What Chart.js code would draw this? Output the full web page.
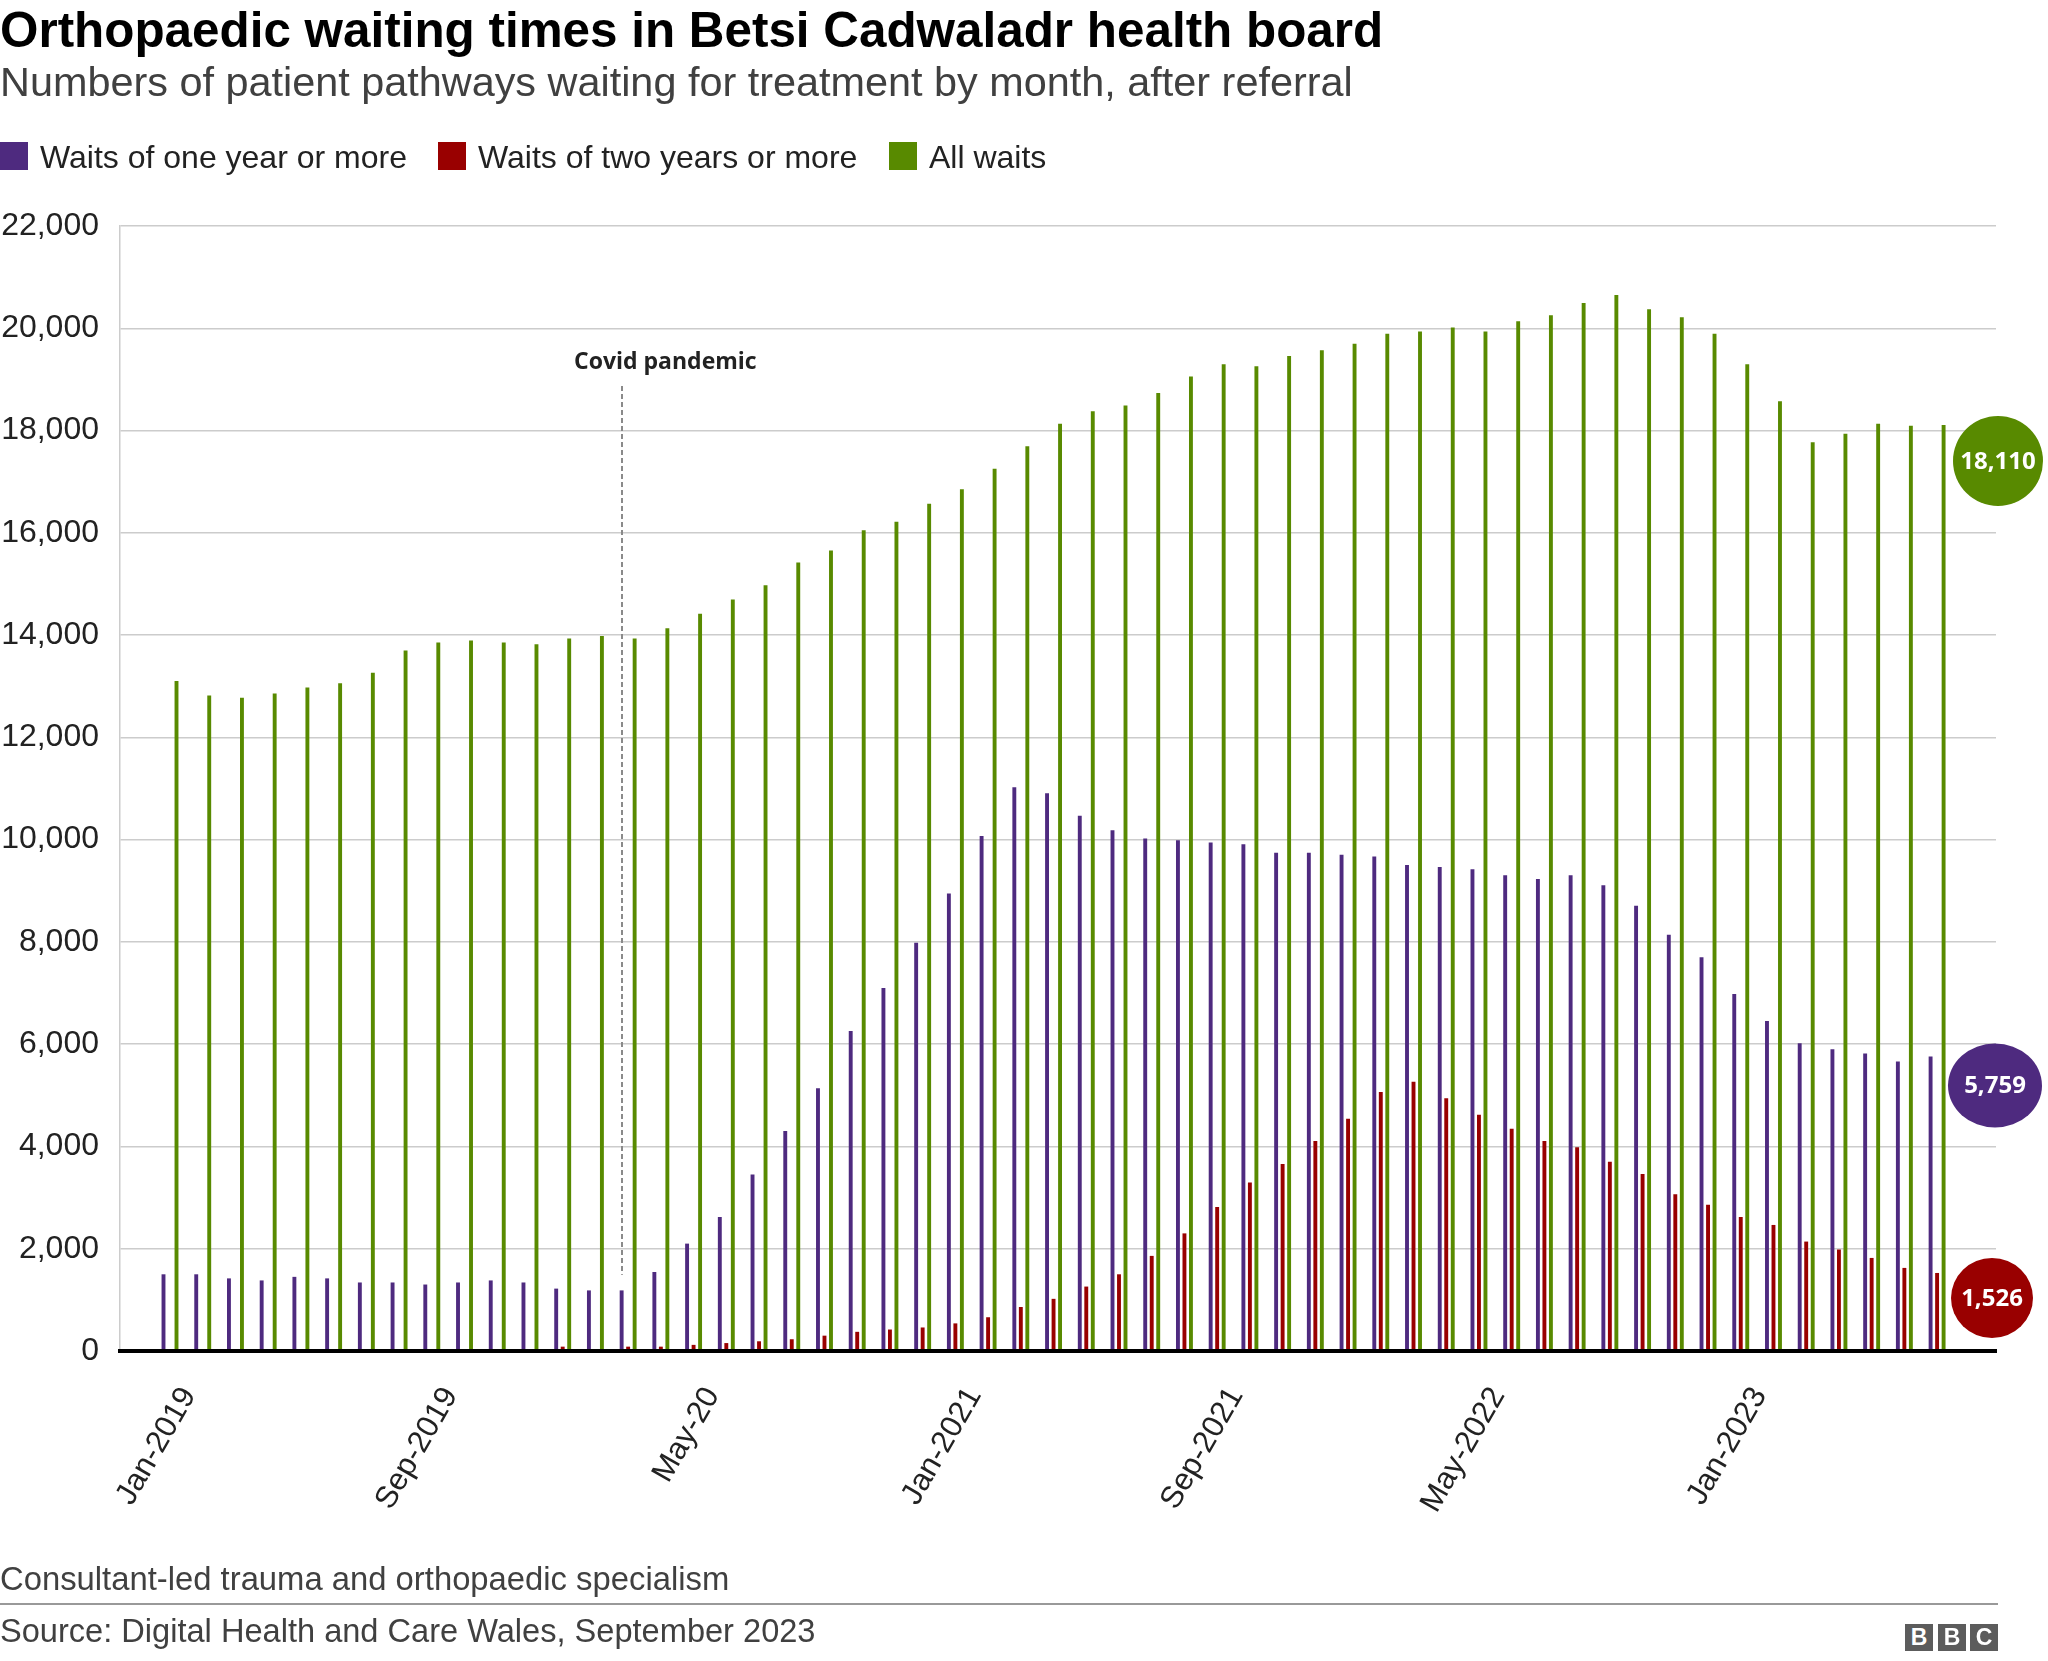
<!DOCTYPE html>
<html>
<head>
<meta charset="utf-8">
<script src="https://cdn.jsdelivr.net/npm/chart.js@4.4.0/dist/chart.umd.min.js"></script>
<style>
html,body{margin:0;padding:0;background:#fff;}
body{width:2048px;height:1661px;position:relative;overflow:hidden;font-family:"Liberation Sans",Arial,sans-serif;}
#c{position:absolute;left:0;top:0;z-index:0;}
.t{position:absolute;white-space:nowrap;line-height:1;z-index:1;}
#title{left:0;top:5px;font-size:49.4px;font-weight:bold;color:#000;}
#subtitle{left:0;top:62px;font-size:41.4px;color:#404040;}
.sw{position:absolute;top:142px;width:28px;height:28px;z-index:1;}
.lgt{top:141px;font-size:32px;color:#222;}
#note{left:0;top:1563px;font-size:32.8px;color:#404040;}
#rule{position:absolute;left:0;top:1603px;width:1998px;height:2px;background:#999;}
#source{left:0;top:1615px;font-size:32.6px;color:#404040;}
.bbc{position:absolute;top:1624px;width:28px;height:27px;background:#5c5c5c;color:#fff;font:bold 23px "Liberation Sans",Arial,sans-serif;text-align:center;line-height:27px;}
</style>
</head>
<body>
<canvas id="c" width="2048" height="1661"></canvas>
<div id="title" class="t">Orthopaedic waiting times in Betsi Cadwaladr health board</div>
<div id="subtitle" class="t">Numbers of patient pathways waiting for treatment by month, after referral</div>
<div id="legend"></div>
<div id="note" class="t">Consultant-led trauma and orthopaedic specialism</div>
<div id="rule"></div>
<div id="source" class="t">Source: Digital Health and Care Wales, September 2023</div>
<div class="bbc" style="left:1905px">B</div>
<div class="bbc" style="left:1938px">B</div>
<div class="bbc" style="left:1970px">C</div>
<script>
// ---------- DATA ----------
const months = [
  'Jan-2019','Feb-2019','Mar-2019','Apr-2019','May-2019','Jun-2019','Jul-2019','Aug-2019','Sep-2019','Oct-2019','Nov-2019','Dec-2019',
  'Jan-2020','Feb-2020','Mar-2020','Apr-2020','May-2020','Jun-2020','Jul-2020','Aug-2020','Sep-2020','Oct-2020','Nov-2020','Dec-2020',
  'Jan-2021','Feb-2021','Mar-2021','Apr-2021','May-2021','Jun-2021','Jul-2021','Aug-2021','Sep-2021','Oct-2021','Nov-2021','Dec-2021',
  'Jan-2022','Feb-2022','Mar-2022','Apr-2022','May-2022','Jun-2022','Jul-2022','Aug-2022','Sep-2022','Oct-2022','Nov-2022','Dec-2022',
  'Jan-2023','Feb-2023','Mar-2023','Apr-2023','May-2023','Jun-2023','Jul-2023'
];
const oneYearOrMore = [
  1500,1500,1420,1380,1450,1420,1340,1340,1300,1340,1380,1340,
  1220,1185,1185,1545,2100,2620,3450,4300,5140,6260,7100,7985,
  8945,10070,11025,10905,10465,10185,10020,9990,9945,9910,9745,9745,
  9705,9670,9505,9465,9420,9305,9230,9305,9110,8705,8140,7700,
  6980,6455,6020,5900,5820,5660,5759
];
const twoYearsOrMore = [
  0,0,0,0,0,0,0,0,0,0,0,0,
  85,20,85,85,120,155,190,230,300,375,420,460,
  540,660,860,1020,1260,1500,1860,2300,2815,3295,3655,4105,
  4540,5065,5265,4945,4620,4345,4105,3985,3700,3460,3065,2860,
  2620,2465,2140,1985,1820,1625,1526
];
const allWaits = [
  13100,12820,12775,12860,12975,13060,13265,13700,13855,13895,13855,13820,
  13935,13980,13935,14135,14415,14695,14975,15420,15655,16050,16215,16570,
  16850,17255,17695,18135,18375,18490,18735,19055,19295,19255,19460,19570,
  19695,19895,19935,20015,19935,20135,20255,20495,20650,20370,20215,19895,
  19295,18575,17770,17935,18135,18095,18110
];
const seriesNames = ['Waits of one year or more','Waits of two years or more','All waits'];
const seriesColors = ['#4e2a7f','#990000','#588a00'];
const tickMonths = ['Jan-2019','Sep-2019','May-2020','Jan-2021','Sep-2021','May-2022','Jan-2023'];
const tickLabels = ['Jan-2019','Sep-2019','May-20','Jan-2021','Sep-2021','May-2022','Jan-2023'];
const yTicks = [0,2000,4000,6000,8000,10000,12000,14000,16000,18000,20000,22000];
const covidMonth = 'Mar-2020';
const covidText = 'Covid pandemic';
const covidFrom = 18870, covidTo = 1490;

// ---------- LEGEND (HTML) ----------
const legendX = [0, 438, 889];
const lg = document.getElementById('legend');
seriesNames.forEach((n, i) => {
  const s = document.createElement('div');
  s.className = 'sw'; s.style.left = legendX[i] + 'px'; s.style.background = seriesColors[i];
  lg.appendChild(s);
  const t = document.createElement('div');
  t.className = 't lgt'; t.style.left = (legendX[i] + 40) + 'px'; t.textContent = n;
  lg.appendChild(t);
});

// ---------- CHART ----------
const series = [oneYearOrMore, twoYearsOrMore, allWaits];
const datasets = series.map((arr, si) => ({
  label: seriesNames[si],
  data: arr.map((v, i) => ({x: i, y: v})),
  backgroundColor: seriesColors[si],
  borderWidth: 0,
  categoryPercentage: 0.596,
  barPercentage: 0.6
}));
const tickIdx = tickMonths.map(m => months.indexOf(m));

const annotate = {
  id: 'annotate',
  afterDatasetsDraw(chart) {
    const {ctx, scales: {x, y}} = chart;
    const lx = Math.round(x.getPixelForValue(months.indexOf(covidMonth))) - 6;
    const top = y.getPixelForValue(covidFrom);
    ctx.save();
    ctx.strokeStyle = '#8a8a8a';
    ctx.lineWidth = 2;
    ctx.setLineDash([5, 3]);
    ctx.beginPath();
    ctx.moveTo(lx, top);
    ctx.lineTo(lx, y.getPixelForValue(covidTo));
    ctx.stroke();
    ctx.setLineDash([]);
    ctx.font = 'bold 23px "Open Sans", "Noto Sans", sans-serif';
    ctx.fillStyle = '#222';
    ctx.textAlign = 'left';
    ctx.textBaseline = 'alphabetic';
    ctx.fillText(covidText, lx - 48, top - 17);
    ctx.restore();
  },
  afterDraw(chart) {
    const {ctx, chartArea, scales: {y}} = chart;
    const ends = [
      {si: 2, rx: 45, ry: 45, dx: 2, dy: 36},
      {si: 0, rx: 47, ry: 42, dx: -1, dy: 29},
      {si: 1, rx: 41, ry: 40, dx: -4, dy: 25}
    ];
    ctx.save();
    ends.forEach(e => {
      const arr = series[e.si];
      const v = arr[arr.length - 1];
      const cx = chartArea.right + e.dx;
      const cy = y.getPixelForValue(v) + e.dy;
      ctx.fillStyle = seriesColors[e.si];
      ctx.beginPath();
      ctx.ellipse(cx, cy, e.rx, e.ry, 0, 0, Math.PI * 2);
      ctx.fill();
      ctx.fillStyle = '#fff';
      ctx.font = 'bold 24px "Open Sans", "Noto Sans", sans-serif';
      ctx.textAlign = 'center';
      ctx.textBaseline = 'middle';
      ctx.fillText(v.toLocaleString('en-GB'), cx, cy + 1);
    });
    ctx.restore();
  }
};

new Chart(document.getElementById('c'), {
  type: 'bar',
  data: {datasets},
  options: {
    responsive: false,
    animation: false,
    layout: {padding: {top: 226, right: 52, bottom: 110, left: 0}},
    plugins: {legend: {display: false}, tooltip: {enabled: false}},
    scales: {
      x: {
        type: 'linear',
        offset: false,
        min: -1.528,
        max: 55.8,
        grid: {display: false, drawTicks: false, offset: false},
        border: {display: true, color: '#000', width: 4, z: 1},
        ticks: {
          autoSkip: false, minRotation: 60, maxRotation: 60, padding: 30, labelOffset: 19,
          color: '#222', font: {size: 31, family: '"Liberation Sans", Arial, sans-serif'},
          callback: (v) => { const k = tickIdx.indexOf(v); return k >= 0 ? tickLabels[k] : ''; }
        },
        afterBuildTicks: (s) => { s.ticks = tickIdx.map(v => ({value: v})); },
        afterFit: (s) => { s.height = 200; }
      },
      y: {
        min: 0, max: 22000,
        grid: {color: '#cccccc', lineWidth: 1.5, drawTicks: false},
        border: {display: true, color: '#cccccc', width: 1.5},
        ticks: {
          padding: 21, color: '#222', font: {size: 32, family: '"Liberation Sans", Arial, sans-serif'},
          callback: (v) => v.toLocaleString('en-GB')
        },
        afterBuildTicks: (s) => { s.ticks = yTicks.map(v => ({value: v})); },
        afterFit: (s) => { s.width = 120; }
      }
    }
  },
  plugins: [annotate]
});
</script>
</body>
</html>
